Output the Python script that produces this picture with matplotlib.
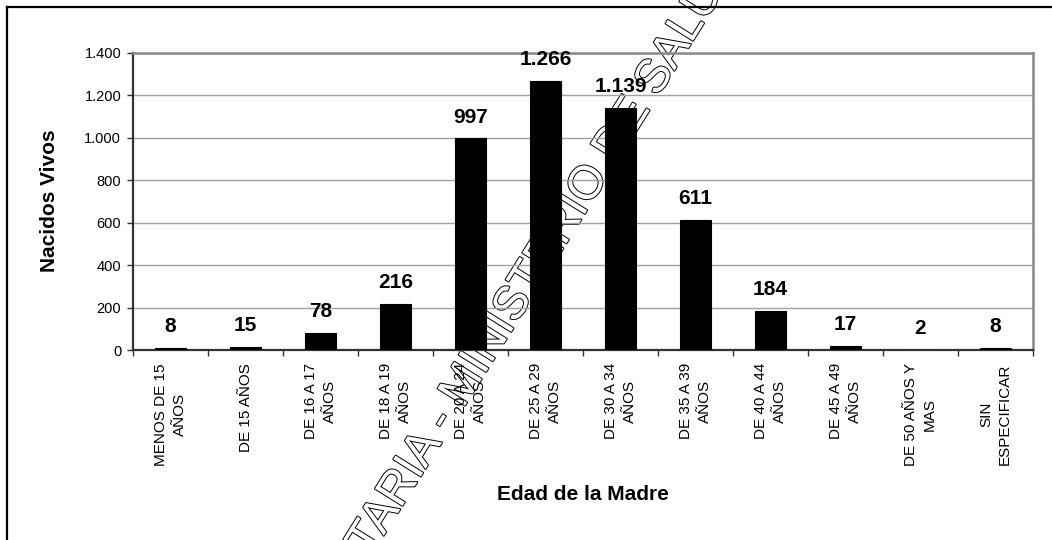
import matplotlib
matplotlib.use('Agg')
import matplotlib.pyplot as plt
import matplotlib.patheffects as pe
from matplotlib.lines import Line2D
import numpy as np

plt.rcParams['font.family'] = ['Liberation Sans', 'DejaVu Sans']

# Nacidos vivos segun edad de la madre
categorias = ["MENOS DE 15\nAÑOS", "DE 15 AÑOS", "DE 16 A 17\nAÑOS", "DE 18 A 19\nAÑOS",
              "DE 20 A 24\nAÑOS", "DE 25 A 29\nAÑOS", "DE 30 A 34\nAÑOS", "DE 35 A 39\nAÑOS",
              "DE 40 A 44\nAÑOS", "DE 45 A 49\nAÑOS", "DE 50 AÑOS Y\nMAS", "SIN\nESPECIFICAR"]
nacidos = [8, 15, 78, 216, 997, 1266, 1139, 611, 184, 17, 2, 8]
y_ticks = [0, 200, 400, 600, 800, 1000, 1200, 1400]

W, H = 1052, 540


def miles(v):
    return f"{v:,}".replace(",", ".")


fig = plt.figure(figsize=(W / 100, H / 100), dpi=100)
fig.patch.set_facecolor('white')

# plot area in pixels: left 133, right 1033, top 53, bottom 350
ax = fig.add_axes([133 / W, (H - 350) / H, 900 / W, 297 / H])
ax.set_facecolor('none')
ax.set_zorder(2)

x = np.arange(len(categorias))
ax.bar(x, nacidos, width=0.42, color='black', edgecolor='black', linewidth=0.8, zorder=3)

for xi, v in zip(x, nacidos):
    ax.annotate(miles(v), (xi, v), xytext=(0, 11.5), textcoords='offset points',
                ha='center', va='baseline', fontsize=15, fontweight='bold', zorder=4)

ax.set_xlim(-0.5, len(categorias) - 0.5)
ax.set_ylim(0, 1400)
ax.set_yticks(y_ticks)
ax.set_yticklabels([miles(t) for t in y_ticks], fontsize=10.5)
ax.yaxis.grid(True, color='#a0a0a0', linewidth=1.0, zorder=1)
ax.set_axisbelow(True)

ax.set_xticks(x)
ax.set_xticklabels(categorias, rotation=90, fontsize=11, ha='center', va='top',
                   multialignment='center', linespacing=1.45)
ax.set_xticks(np.arange(-0.5, len(categorias)), minor=True)
ax.tick_params(axis='x', which='major', length=0, pad=9.5)
ax.tick_params(axis='x', which='minor', length=4.5, width=1, color='#333333', direction='out')
ax.tick_params(axis='y', length=4.5, width=1, color='#333333', pad=4)

for s in ['left', 'bottom']:
    ax.spines[s].set_color('#333333')
    ax.spines[s].set_linewidth(1.6)
for s in ['top', 'right']:
    ax.spines[s].set_color('#888888')
    ax.spines[s].set_linewidth(1.8)

fig.text(55 / W, (H - 201) / H, "Nacidos Vivos", rotation=90, rotation_mode='anchor',
         ha='center', va='baseline', fontsize=15, fontweight='bold')
fig.text(583 / W, (H - 500) / H, "Edad de la Madre", ha='center', va='baseline',
         fontsize=15, fontweight='bold')

# chart border (only left and top visible)
fig.add_artist(Line2D([7 / W, 7 / W], [0, (H - 7) / H], color='black', linewidth=1.6))
fig.add_artist(Line2D([7 / W, 1], [(H - 7) / H, (H - 7) / H], color='black', linewidth=1.6))

# watermark (outlined letters, behind the bars)
outline = [pe.withStroke(linewidth=1.4, foreground='black')]
wx, wy = 463 / W, (H - 409) / H
fig.text(wx, wy, "SECRETARIA - ", rotation=58, rotation_mode='anchor', ha='right',
         va='baseline', fontsize=34, color='white', path_effects=outline, zorder=1)
fig.text(wx, wy, "MINISTERIO DE SALUD", rotation=58, rotation_mode='anchor', ha='left',
         va='baseline', fontsize=34, color='white', path_effects=outline, zorder=1)

fig.savefig('out.png', dpi=100)
